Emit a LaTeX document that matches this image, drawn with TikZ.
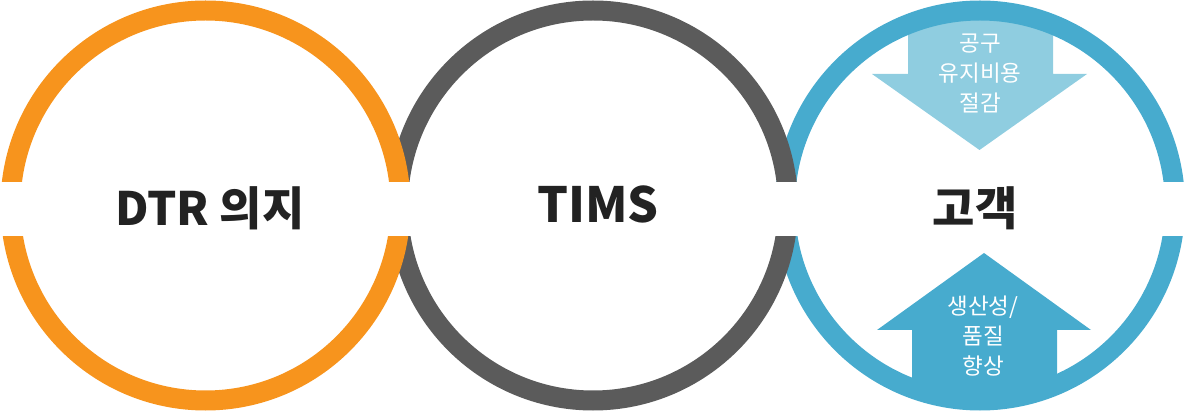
\documentclass[tikz,border=0pt]{standalone}
\usepackage{fontspec}
\setmainfont{Noto Sans CJK KR}
\usetikzlibrary{shapes}
\definecolor{dtrorange}{HTML}{F7941D}
\definecolor{timsgray}{HTML}{5B5B5B}
\definecolor{custblue}{HTML}{47ABCE}
\definecolor{custlight}{HTML}{8FCDE0}
\definecolor{titleblack}{HTML}{222222}

\begin{document}
\begin{tikzpicture}[x=1pt, y=-1pt,
  ring/.style={circle, draw, line width=20pt, minimum size=390pt, inner sep=0pt},
  title/.style={text=titleblack, font=\bfseries\fontsize{46}{50}\selectfont, anchor=base},
  arrowtext/.style={text=white, align=center, font=\fontsize{22.5}{30}\selectfont}]
\useasboundingbox (0,0) rectangle (1186,411);
%%% arrows inside the customer circle %%%

      \begin{scope}
        \clip (980,205.5) circle (196);
        %% 
        \fill[custlight] (908,0) -- (908,74) -- (872,74) -- (979.5,150) -- (1087,74) -- (1053,74) -- (1053,0) -- cycle;
        %% 
        \fill[custblue] (912,411) -- (912,330) -- (877,330) -- (984,253) -- (1091,330) -- (1057,330) -- (1057,411) -- cycle;
      \end{scope}

%%% rings %%%

      \node[ring, draw=custblue] (cust) at (980,205.5) {};
      \node[ring, draw=timsgray] (tims) at (593,205.5) {};
      \node[ring, draw=dtrorange] (dtr) at (205.5,205.5) {};
      %% 
      \fill[white] (0,182) rectangle (1186,236);

%%% labels %%%

      \node[title] (dtrlabel) at (210,226) {DTR 의지};
      \node[title, font=\bfseries\fontsize{48.5}{52}\selectfont] (timslabel) at (598,223) {TIMS};
      \node[title] (custlabel) at (975,226) {고객};
      %% 
      \node[arrowtext] (costlabel) at (980,73) {공구\\유지비용\\절감};
      \node[arrowtext] (qualitylabel) at (983,336) {생산성/\\품질\\향상};

\end{tikzpicture}
\end{document}
